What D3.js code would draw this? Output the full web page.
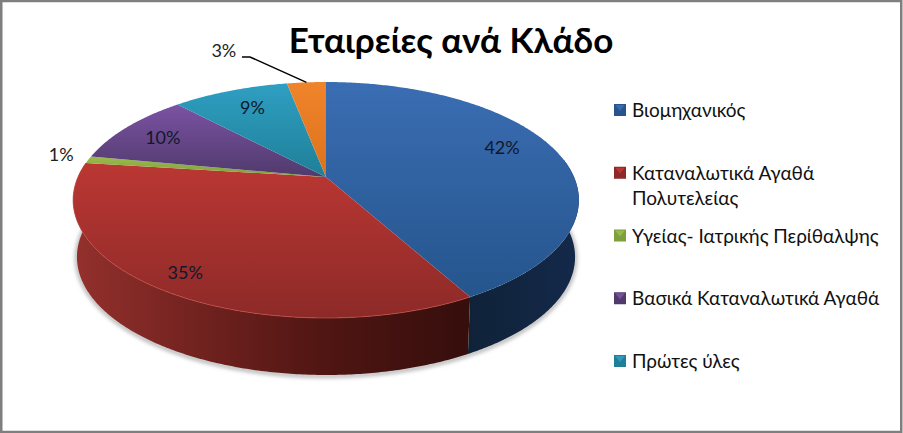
<!DOCTYPE html>
<html lang="el">
<head>
  <meta charset="UTF-8" />
  <title>Εταιρείες ανά Κλάδο</title>
  <style>
    html, body { margin:0; padding:0; background:#fff; }
    svg { display:block; font-family:Lato, "Noto Sans", sans-serif; }
  </style>
</head>
<body>
  <div id="chart"></div>
  <script src="https://d3js.org/d3.v7.min.js"></script>
  <script>
  // Values, clockwise from 12 o'clock
  const shares = [42, 35, 1, 10, 9, 3];
  const shareLabels = ["42%", "35%", "1%", "10%", "9%", "3%"];
  const legendLines = [
    ["Βιομηχανικός"],
    ["Καταναλωτικά Αγαθά", "Πολυτελείας"],
    ["Υγείας- Ιατρικής Περίθαλψης"],
    ["Βασικά Καταναλωτικά Αγαθά"],
    ["Πρώτες ύλες"]
  ];
  const titleText = "Εταιρείες ανά Κλάδο";

  // top / bottom of the lit face, per slice
  const faceLight = ["#3a6db3", "#bb3733", "#9abb4c", "#7b52a3", "#2f9fc2", "#f0842a"];
  const faceDark = ["#25558c", "#8c2a28", "#7f9e3c", "#503a6c", "#1f7f98", "#dc721e"];

  const W = 903, H = 433;
  const cx = 326, cy = 177;   // where the slices meet
  const R = 248, tilt = 113.5, persp = 0.195;
  const depth = 57, sideScale = 0.985;
  const labelRadius = 0.76;
  // label nudges, px from the point at labelRadius
  const labelNudge = [[0, -9], [-20, 14], [-4, -4], [-9, -1], [2, -2], [-81, -25]];

  const svg = d3.select('#chart').append('svg').attr('width', W).attr('height', H);
  const defs = svg.append('defs');

  // Perspective projection of the unit disc
  function project(angle, r = 1) {
    const u = -Math.cos(angle) * r, v = Math.sin(angle) * r;
    const d = 1 - persp * u;
    return [cx + R * v / d, cy + tilt * u / d];
  }
  function lower(p) {
    return [cx + (p[0] - cx) * sideScale, p[1] + depth];
  }
  function arcPoints(a0, a1) {
    const n = Math.max(2, Math.ceil((a1 - a0) / 0.01));
    return d3.range(n + 1).map(i => project(a0 + (a1 - a0) * i / n));
  }
  const line = d3.line();

  const arcs = d3.pie().sort(null).value(d => d)(shares);

  // gradients, each one spans its own slice
  arcs.forEach((a, i) => {
    const g = defs.append('linearGradient').attr('id', `face-${i}`)
      .attr('x1', 0).attr('x2', 0).attr('y1', 0).attr('y2', 1);
    g.append('stop').attr('offset', '0%').attr('stop-color', faceLight[i]);
    g.append('stop').attr('offset', '100%').attr('stop-color', faceDark[i]);
  });
  const redSide = defs.append('linearGradient').attr('id', 'side-red')
    .attr('gradientUnits', 'userSpaceOnUse').attr('x1', 75).attr('x2', 468).attr('y1', 0).attr('y2', 0);
  [['0%', '#93302c'], ['30%', '#732320'], ['65%', '#4e1512'], ['100%', '#360e0c']].forEach(s =>
    redSide.append('stop').attr('offset', s[0]).attr('stop-color', s[1]));
  const blueSide = defs.append('linearGradient').attr('id', 'side-blue')
    .attr('gradientUnits', 'userSpaceOnUse').attr('x1', 468).attr('x2', 575).attr('y1', 0).attr('y2', 0);
  blueSide.append('stop').attr('offset', '0%').attr('stop-color', '#0f2238');
  blueSide.append('stop').attr('offset', '100%').attr('stop-color', '#14294a');

  const shadow = defs.append('filter').attr('id', 'soft')
    .attr('x', '-10%').attr('y', '-10%').attr('width', '120%').attr('height', '120%');
  shadow.append('feGaussianBlur').attr('stdDeviation', 2);

  // front wall: the near half of the disc, a bit past the widest point
  const front = [Math.PI * 0.45, Math.PI * 1.55];
  const walls = arcs.map((a, i) => {
    const a0 = Math.max(a.startAngle, front[0]), a1 = Math.min(a.endAngle, front[1]);
    if (a1 <= a0 || i > 1) return null;
    const top = arcPoints(a0, a1);
    return { i, d: line(top.concat(top.map(lower).reverse())) + 'Z' };
  }).filter(Boolean);

  // soft shadow just under the wall
  const outline = arcPoints(front[0], front[1]).map(lower);
  svg.append('path')
    .attr('d', line(outline.map(p => [p[0], p[1] + 1])))
    .attr('fill', 'none').attr('stroke', '#9a9a9a').attr('stroke-width', 3)
    .attr('filter', 'url(#soft)');

  svg.selectAll('path.wall').data(walls).join('path')
    .attr('class', 'wall')
    .attr('d', d => d.d)
    .attr('fill', d => d.i === 0 ? 'url(#side-blue)' : 'url(#side-red)');

  // top faces
  svg.selectAll('path.face').data(arcs).join('path')
    .attr('class', 'face')
    .attr('d', a => line([[cx, cy]].concat(arcPoints(a.startAngle, a.endAngle))) + 'Z')
    .attr('fill', (a, i) => `url(#face-${i})`);

  // thin lit rim on the red front edge
  svg.append('path')
    .attr('d', line(arcPoints(arcs[1].startAngle, arcs[1].endAngle)))
    .attr('fill', 'none').attr('stroke', '#c24a44').attr('stroke-width', 1).attr('opacity', 0.8);

  // data labels
  const outside = new Set([2, 5]);
  arcs.forEach((a, i) => {
    const mid = (a.startAngle + a.endAngle) / 2;
    const p = project(mid, outside.has(i) ? 1.1 : labelRadius);
    svg.append('text')
      .attr('x', p[0] + labelNudge[i][0]).attr('y', p[1] + labelNudge[i][1])
      .attr('text-anchor', 'middle').attr('dominant-baseline', 'central')
      .attr('font-size', 18).attr('fill', outside.has(i) ? '#222' : '#10182c')
      .text(shareLabels[i]);
  });

  // leader for the small orange slice
  const tip = project((arcs[5].startAngle + arcs[5].endAngle) / 2);
  svg.append('path')
    .attr('d', line([[242, 57], [250, 57], tip]))
    .attr('fill', 'none').attr('stroke', '#000').attr('stroke-width', 1.5);

  // legend
  const legendY = d3.scaleLinear().domain([0, 4]).range([110, 361]);
  const legend = svg.selectAll('g.key').data(legendLines).join('g')
    .attr('class', 'key')
    .attr('transform', (d, i) => `translate(614,${legendY(i)})`);
  legend.append('rect').attr('y', -6).attr('width', 12).attr('height', 12)
    .attr('fill', (d, i) => faceDark[i]);
  legend.append('path').attr('d', 'M1,-5L11,-5L6,1Z')
    .attr('fill', (d, i) => faceLight[i]).attr('opacity', 0.9);
  legend.each(function(lines) {
    d3.select(this).selectAll('text').data(lines).join('text')
      .attr('x', 18).attr('y', (d, j) => 7 + j * 25.5)
      .attr('font-size', 19).attr('fill', '#111')
      .text(d => d);
  });

  // title
  svg.append('text')
    .attr('x', 451).attr('y', 53).attr('text-anchor', 'middle')
    .attr('font-size', 35).attr('font-weight', 'bold').attr('fill', '#000')
    .text(titleText);

  // frame
  svg.append('rect').attr('x', 1.25).attr('y', 1).attr('width', W - 3).attr('height', H - 2)
    .attr('fill', 'none').attr('stroke', '#7f7f7f').attr('stroke-width', 2.5);
  </script>
</body>
</html>
